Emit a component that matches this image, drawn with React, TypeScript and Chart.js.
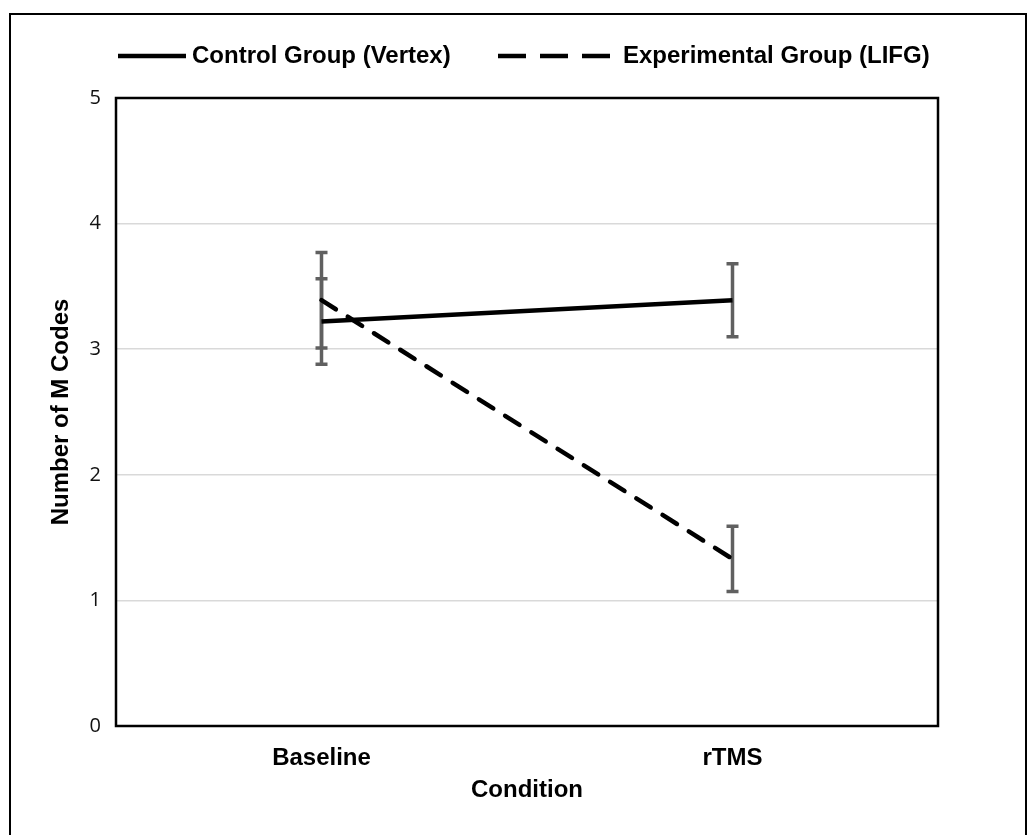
import React, { useEffect, useRef } from "react";
import { Chart, registerables } from "chart.js";

Chart.register(...registerables);

const categories = ["Baseline", "rTMS"];
const controlMeans = [3.22, 3.39];
const controlErrors = [0.34, 0.29];
const experimentalMeans = [3.39, 1.33];
const experimentalErrors = [0.38, 0.26];
const seriesLabels = ["Control Group (Vertex)", "Experimental Group (LIFG)"];
const yTicks = [0, 1, 2, 3, 4, 5];

const BOLD = "'Liberation Sans', Arial, sans-serif";

const framePlugin = {
  id: "frame",
  beforeDraw(chart: any) {
    const ctx = chart.ctx;
    ctx.save();
    ctx.fillStyle = "#ffffff";
    ctx.fillRect(0, 0, chart.width, chart.height);
    ctx.strokeStyle = "#000";
    ctx.lineWidth = 2;
    ctx.strokeRect(10, 14, 1016, 900);
    ctx.restore();
  },
};

const errorBarPlugin = {
  id: "errorBars",
  beforeDatasetsDraw(chart: any) {
    const ctx = chart.ctx;
    const y = chart.scales.y;
    ctx.save();
    ctx.strokeStyle = "#606060";
    ctx.lineWidth = 3.5;
    ctx.lineCap = "butt";
    chart.data.datasets.forEach((ds: any, di: number) => {
      const meta = chart.getDatasetMeta(di);
      const errs = ds.errors as number[];
      meta.data.forEach((pt: any, i: number) => {
        const v = ds.data[i];
        const x = pt.x;
        const yHi = y.getPixelForValue(v + errs[i]);
        const yLo = y.getPixelForValue(v - errs[i]);
        ctx.beginPath();
        ctx.moveTo(x, yHi);
        ctx.lineTo(x, yLo);
        ctx.moveTo(x - 6, yHi);
        ctx.lineTo(x + 6, yHi);
        ctx.moveTo(x - 6, yLo);
        ctx.lineTo(x + 6, yLo);
        ctx.stroke();
      });
    });
    ctx.restore();
  },
};

const borderLegendPlugin = {
  id: "borderLegend",
  afterDraw(chart: any) {
    const ctx = chart.ctx;
    const a = chart.chartArea;
    ctx.save();
    ctx.strokeStyle = "#000";
    ctx.lineWidth = 2.5;
    ctx.strokeRect(a.left, a.top, a.right - a.left, a.bottom - a.top);

    // legend
    const ly = 56;
    ctx.lineWidth = 4.5;
    ctx.lineCap = "butt";
    ctx.beginPath();
    ctx.moveTo(118, ly);
    ctx.lineTo(186, ly);
    ctx.stroke();
    ctx.setLineDash([28, 14]);
    ctx.beginPath();
    ctx.moveTo(498, ly);
    ctx.lineTo(611, ly);
    ctx.stroke();
    ctx.setLineDash([]);
    ctx.fillStyle = "#000";
    ctx.font = `bold 24px ${BOLD}`;
    ctx.textBaseline = "middle";
    ctx.textAlign = "left";
    ctx.fillText(seriesLabels[0], 192, ly);
    ctx.fillText(seriesLabels[1], 623, ly);
    ctx.restore();
  },
};

export default function App() {
  const ref = useRef<HTMLCanvasElement | null>(null);
  useEffect(() => {
    if (!ref.current) return;
    const chart = new Chart(ref.current, {
      type: "line",
      data: {
        labels: categories,
        datasets: [
          {
            label: seriesLabels[0],
            data: controlMeans,
            errors: controlErrors,
            borderColor: "#000",
            borderWidth: 4.5,
            pointRadius: 0,
            tension: 0,
            fill: false,
          } as any,
          {
            label: seriesLabels[1],
            data: experimentalMeans,
            errors: experimentalErrors,
            borderColor: "#000",
            borderWidth: 4.5,
            borderDash: [17, 14],
            borderCapStyle: "round",
            pointRadius: 0,
            tension: 0,
            fill: false,
          } as any,
        ],
      },
      options: {
        animation: false,
        responsive: false,
        devicePixelRatio: 1,
        layout: { padding: { left: 0, top: 98, right: 91, bottom: 0 } },
        plugins: {
          legend: { display: false },
          tooltip: { enabled: false },
        },
        scales: {
          x: {
            type: "category",
            offset: true,
            grid: { display: false, drawTicks: false },
            border: { display: false },
            ticks: {
              padding: 18,
              color: "#000",
              font: { family: BOLD, size: 24, weight: "bold" },
            },
            title: {
              display: true,
              text: "Condition",
              color: "#000",
              font: { family: BOLD, size: 24, weight: "bold" },
              padding: { top: 0, bottom: 30 },
            },
            afterFit(scale: any) {
              scale.height = 109;
            },
          },
          y: {
            min: 0,
            max: 5,
            afterBuildTicks(scale: any) {
              scale.ticks = yTicks.map((v) => ({ value: v }));
            },
            grid: {
              color: "#d9d9d9",
              lineWidth: 1.5,
              drawTicks: false,
            },
            border: { display: false },
            ticks: {
              padding: 15,
              color: "#111",
              font: { family: "'Open Sans', sans-serif", size: 20 },
            },
            title: {
              display: true,
              text: "Number of M Codes",
              color: "#000",
              font: { family: BOLD, size: 24, weight: "bold" },
              padding: { top: 47, bottom: 0 },
            },
            afterFit(scale: any) {
              scale.width = 116;
            },
          },
        },
      } as any,
      plugins: [framePlugin, errorBarPlugin, borderLegendPlugin],
    });
    return () => chart.destroy();
  }, []);
  return (
    <div style={{ position: "absolute", left: 0, top: 0, width: 1029, height: 835 }}>
      <canvas ref={ref} width={1029} height={835} style={{ width: 1029, height: 835, display: "block" }} />
    </div>
  );
}
